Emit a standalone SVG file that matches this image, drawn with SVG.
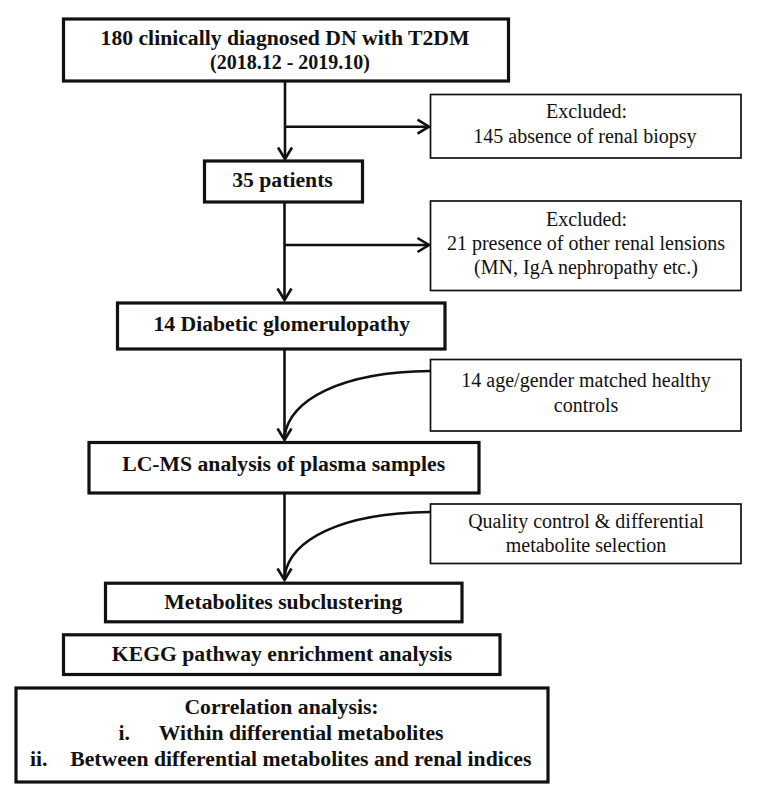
<svg xmlns="http://www.w3.org/2000/svg" width="760" height="795" viewBox="0 0 760 795">
<style>
.thick{fill:#fff;stroke:#111;stroke-width:3.2}
.thin{fill:#fff;stroke:#111;stroke-width:1.7}
.b{font-family:"Liberation Serif","Times New Roman",serif;font-weight:bold;font-size:21.7px;fill:#111;text-anchor:middle}
.r{font-family:"Liberation Serif","Times New Roman",serif;font-size:20px;fill:#111;text-anchor:middle}
.bs{text-anchor:start}
.con{fill:none;stroke:#111;stroke-width:2.6}
</style>
<defs>
<marker id="ah" markerWidth="16" markerHeight="18" refX="13" refY="9" orient="auto" markerUnits="userSpaceOnUse">
<path d="M1.5,2 L13,9 L1.5,16" fill="none" stroke="#111" stroke-width="2.6"/>
</marker>
</defs>
<rect width="760" height="795" fill="#fff"/>
<g id="connectors">
<line class="con" x1="285" y1="81" x2="285" y2="159" marker-end="url(#ah)"/>
<line class="con" x1="285" y1="126.7" x2="429" y2="126.7" marker-end="url(#ah)"/>
<line class="con" x1="284.5" y1="202" x2="284.5" y2="300" marker-end="url(#ah)"/>
<line class="con" x1="284.5" y1="245" x2="429" y2="245" marker-end="url(#ah)"/>
<line class="con" x1="284.5" y1="349" x2="284.5" y2="440" marker-end="url(#ah)"/>
<path class="con" d="M430,371 C340,372 290,400 284.5,436"/>
<line class="con" x1="284.5" y1="493" x2="284.5" y2="580" marker-end="url(#ah)"/>
<path class="con" d="M430,512 C340,513 290,540 284.5,576"/>
</g>
<g id="n_top">
<rect class="thick" x="63.5" y="19" width="445" height="62"/>
<text class="b" x="285" y="45">180 clinically diagnosed DN with T2DM</text>
<text class="b" x="290" y="69.3" textLength="160" lengthAdjust="spacingAndGlyphs">(2018.12 - 2019.10)</text>
</g>
<g id="n_excl1">
<rect class="thin" x="430.5" y="94.5" width="310.5" height="63.5"/>
<text class="r" x="586.5" y="118.3">Excluded:</text>
<text class="r" x="585" y="143.3">145 absence of renal biopsy</text>
</g>
<g id="n_35">
<rect class="thick" x="204.5" y="161" width="158" height="41"/>
<text class="b" x="282.5" y="186.7">35 patients</text>
</g>
<g id="n_excl2">
<rect class="thin" x="430.5" y="201" width="310.5" height="89.5"/>
<text class="r" x="586.5" y="226">Excluded:</text>
<text class="r" x="586" y="250">21 presence of other renal lensions</text>
<text class="r" x="586" y="274">(MN, IgA nephropathy etc.)</text>
</g>
<g id="n_diab">
<rect class="thick" x="117.5" y="303" width="327.5" height="46"/>
<text class="b" x="281.7" y="330.5">14 Diabetic glomerulopathy</text>
</g>
<g id="n_healthy">
<rect class="thin" x="430.5" y="359.5" width="310.5" height="71.5"/>
<text class="r" x="586" y="387">14 age/gender matched healthy</text>
<text class="r" x="586" y="412">controls</text>
</g>
<g id="n_lcms">
<rect class="thick" x="89" y="442.5" width="390" height="50.5"/>
<text class="b" x="283.7" y="471">LC-MS analysis of plasma samples</text>
</g>
<g id="n_qc">
<rect class="thin" x="430.5" y="504" width="310.5" height="59.5"/>
<text class="r" x="586" y="527.5">Quality control &amp; differential</text>
<text class="r" x="586" y="552">metabolite selection</text>
</g>
<g id="n_meta">
<rect class="thick" x="105.5" y="583.2" width="356.5" height="38.6"/>
<text class="b" x="283.3" y="609">Metabolites subclustering</text>
</g>
<g id="n_kegg">
<rect class="thick" x="63.5" y="634.8" width="436.5" height="39.7"/>
<text class="b" x="282" y="661">KEGG pathway enrichment analysis</text>
</g>
<g id="n_corr">
<rect class="thick" x="16" y="688" width="532" height="94"/>
<text class="b" x="281.5" y="714">Correlation analysis:</text>
<text class="b bs" x="118.6" y="740">i.</text>
<text class="b bs" x="158.8" y="740">Within differential metabolites</text>
<text class="b bs" x="30" y="766">ii.</text>
<text class="b bs" x="70.2" y="766">Between differential metabolites and renal indices</text>
</g>
</svg>
